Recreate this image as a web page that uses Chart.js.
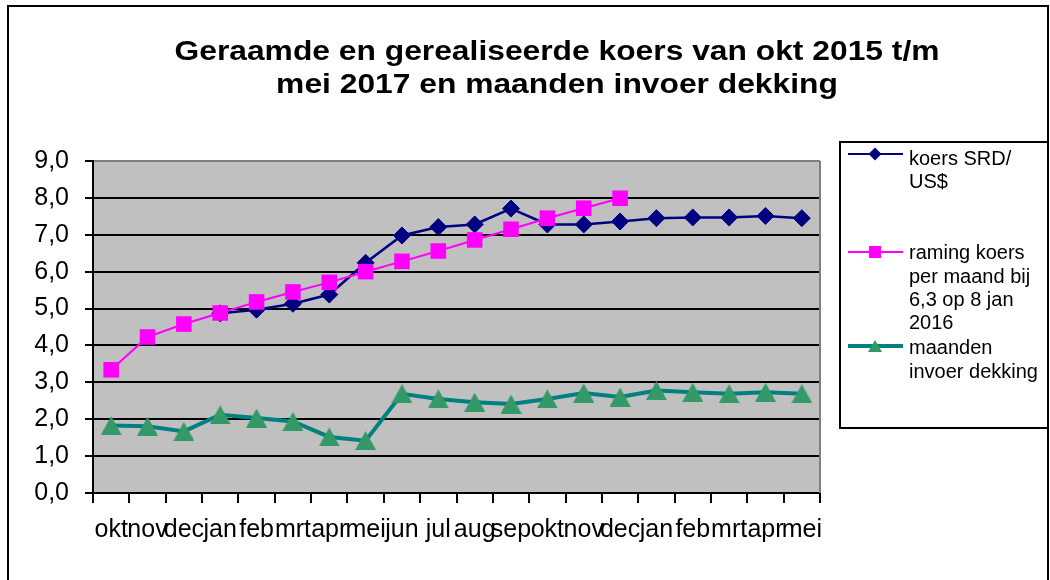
<!DOCTYPE html>
<html lang="nl">
<head>
<meta charset="utf-8">
<title>Koers SRD/US$ en maanden invoer dekking</title>
<script src="https://cdn.jsdelivr.net/npm/chart.js@4.4.1/dist/chart.umd.min.js"></script>
<style>
  html, body { margin: 0; padding: 0; background: #fff; }
  #wrap { position: relative; width: 1050px; height: 580px; }
</style>
</head>
<body>
<div id="wrap"><canvas id="koersChart" width="1050" height="580"></canvas></div>
<script>
// --- gegevens: okt 2015 t/m mei 2017 ---
const maanden = ['okt', 'nov', 'dec', 'jan', 'feb', 'mrt', 'apr', 'mei', 'jun', 'jul',
                 'aug', 'sep', 'okt', 'nov', 'dec', 'jan', 'feb', 'mrt', 'apr', 'mei'];

const koersSRD = [null, null, null, 4.87, 4.97, 5.13, 5.38, 6.24, 6.98, 7.21,
                  7.28, 7.71, 7.28, 7.28, 7.36, 7.45, 7.47, 7.47, 7.51, 7.45];

const ramingKoers = [3.34, 4.23, 4.58, 4.88, 5.18, 5.45, 5.71, 6.00, 6.28, 6.56,
                     6.86, 7.15, 7.45, 7.72, 7.99, null, null, null, null, null];

const maandenDekking = [1.83, 1.81, 1.67, 2.12, 2.03, 1.94, 1.52, 1.42, 2.69, 2.55,
                        2.46, 2.41, 2.55, 2.71, 2.60, 2.78, 2.73, 2.69, 2.73, 2.69];

const yMin = 0, yMax = 9, yStap = 1;

const titelRegels = ['Geraamde en gerealiseerde koers van okt 2015 t/m',
                     'mei 2017 en maanden invoer dekking'];

const legendaTeksten = [
    ['koers SRD/', 'US$'],
    ['raming koers', 'per maand bij', '6,3 op 8 jan', '2016'],
    ['maanden', 'invoer dekking']
];

const FONT = '"Liberation Sans", Arial, sans-serif';
const NAVY = '#000080';
const ROZE = '#ff00ff';
const TEAL = '#008080';
const ZEEGROEN = '#339966';

// driehoekje als eigen puntstijl (midden van het vlak op het datapunt)
function maakDriehoek(w, h, kleur) {
    const c = document.createElement('canvas');
    c.width = w; c.height = h;
    const g = c.getContext('2d');
    g.fillStyle = kleur;
    g.beginPath();
    g.moveTo(w / 2, 0);
    g.lineTo(w, h);
    g.lineTo(0, h);
    g.closePath();
    g.fill();
    return c;
}
const driehoek = maakDriehoek(21, 19, ZEEGROEN);
const driehoekKlein = maakDriehoek(14, 12, ZEEGROEN);

// --- plugin: achtergrond, titel, kader en legenda ---
const opmaak = {
    id: 'opmaak',
    beforeDraw(chart) {
        const { ctx, chartArea: a } = chart;
        ctx.save();
        ctx.fillStyle = '#fff';
        ctx.fillRect(0, 0, chart.width, chart.height);
        ctx.fillStyle = '#c0c0c0';
        ctx.fillRect(a.left, a.top, a.right - a.left, a.bottom - a.top);
        ctx.restore();
    },
    beforeDatasetsDraw(chart) {
        const { ctx, chartArea: a } = chart;
        ctx.save();
        ctx.strokeStyle = '#808080';
        ctx.lineWidth = 2;
        ctx.beginPath();
        ctx.moveTo(a.right, a.top);
        ctx.lineTo(a.right, a.bottom);
        ctx.stroke();
        ctx.restore();
    },
    afterDraw(chart) {
        const ctx = chart.ctx;
        ctx.save();

        // buitenkader
        ctx.strokeStyle = '#000';
        ctx.lineWidth = 2;
        ctx.beginPath();
        ctx.moveTo(8, 600);
        ctx.lineTo(8, 6);
        ctx.lineTo(1048, 6);
        ctx.lineTo(1048, 600);
        ctx.stroke();

        // titel (iets breder gezet zoals in het origineel)
        ctx.fillStyle = '#000';
        ctx.font = 'bold 28px ' + FONT;
        ctx.textAlign = 'center';
        ctx.textBaseline = 'alphabetic';
        const schaal = 765 / ctx.measureText(titelRegels[0]).width;
        titelRegels.forEach((t, i) => {
            ctx.save();
            ctx.translate(557, 60 + i * 33);
            ctx.scale(schaal, 1);
            ctx.fillText(t, 0, 0);
            ctx.restore();
        });

        // legenda
        ctx.strokeStyle = '#000';
        ctx.lineWidth = 2;
        ctx.strokeRect(840, 142, 208, 286);

        const sy = [154, 252, 346];
        const tekstY = [[165, 188], [259, 283, 306, 329], [354, 378]];
        const lijnKleur = [NAVY, ROZE, TEAL];
        const lijnDikte = [2, 2, 4];

        for (let i = 0; i < 3; i++) {
            ctx.strokeStyle = lijnKleur[i];
            ctx.lineWidth = lijnDikte[i];
            ctx.beginPath();
            ctx.moveTo(848, sy[i]);
            ctx.lineTo(903, sy[i]);
            ctx.stroke();
        }
        // ruit
        ctx.fillStyle = NAVY;
        ctx.beginPath();
        ctx.moveTo(875, sy[0] - 6.5);
        ctx.lineTo(881.5, sy[0]);
        ctx.lineTo(875, sy[0] + 6.5);
        ctx.lineTo(868.5, sy[0]);
        ctx.closePath();
        ctx.fill();
        // vierkant
        ctx.fillStyle = ROZE;
        ctx.fillRect(869, sy[1] - 6, 12, 12);
        // driehoek
        ctx.drawImage(driehoekKlein, 875 - 7, sy[2] - 6);

        ctx.fillStyle = '#000';
        ctx.font = '20px ' + FONT;
        ctx.textAlign = 'left';
        legendaTeksten.forEach((regels, i) => {
            regels.forEach((r, j) => ctx.fillText(r, 909, tekstY[i][j]));
        });

        ctx.restore();
    }
};

// --- grafiek ---
const ctx = document.getElementById('koersChart').getContext('2d');

new Chart(ctx, {
    type: 'line',
    data: {
        labels: maanden,
        datasets: [
            {
                label: 'koers SRD/US$',
                data: koersSRD,
                borderColor: NAVY,
                backgroundColor: NAVY,
                borderWidth: 2.5,
                pointStyle: 'rectRot',
                pointRadius: 8.5,
                pointBorderWidth: 1,
                tension: 0,
                order: 3
            },
            {
                label: 'raming koers per maand bij 6,3 op 8 jan 2016',
                data: ramingKoers,
                borderColor: ROZE,
                backgroundColor: ROZE,
                borderWidth: 2,
                pointStyle: 'rect',
                pointRadius: 11,
                pointBorderWidth: 0,
                tension: 0,
                order: 2
            },
            {
                label: 'maanden invoer dekking',
                data: maandenDekking,
                borderColor: TEAL,
                backgroundColor: ZEEGROEN,
                borderWidth: 4,
                pointStyle: driehoek,
                pointRadius: 10,
                tension: 0,
                order: 1
            }
        ]
    },
    options: {
        responsive: false,
        devicePixelRatio: 1,
        animation: false,
        layout: { padding: { left: 0, top: 161, right: 230, bottom: 0 } },
        plugins: {
            legend: { display: false },
            title: { display: false },
            tooltip: { enabled: false }
        },
        scales: {
            x: {
                offset: true,
                grid: {
                    offset: true,
                    drawOnChartArea: false,
                    tickLength: 10,
                    color: '#000',
                    lineWidth: 2
                },
                border: { color: '#000', width: 2 },
                ticks: {
                    color: '#000',
                    font: { family: FONT, size: 25 },
                    padding: 12,
                    maxRotation: 0,
                    autoSkip: false
                },
                afterFit: s => { s.height = 87; }
            },
            y: {
                min: yMin,
                max: yMax,
                grid: {
                    color: c => (c.tick && c.tick.value === yMax ? '#808080' : '#000'),
                    tickColor: '#000',
                    lineWidth: 2,
                    tickLength: 8
                },
                border: { color: '#000', width: 2 },
                ticks: {
                    stepSize: yStap,
                    color: '#000',
                    padding: 16,
                    font: { family: FONT, size: 25 },
                    callback: v => v.toFixed(1).replace('.', ',')
                },
                afterFit: s => { s.width = 93; }
            }
        }
    },
    plugins: [opmaak]
});
</script>
</body>
</html>
